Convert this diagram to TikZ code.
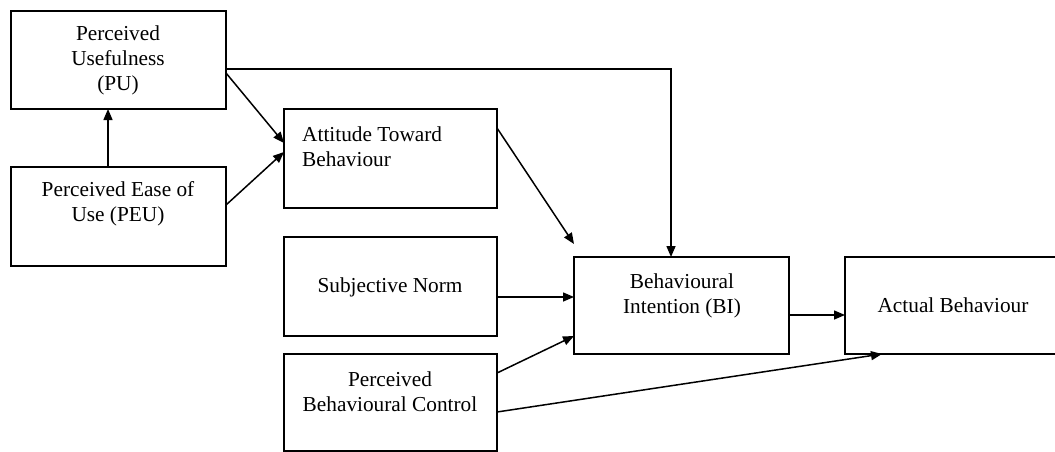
\documentclass[tikz,border=0pt]{standalone}
\usepackage{fontspec}
\setmainfont{Liberation Serif}
\usetikzlibrary{arrows.meta}
\begin{document}
\begin{tikzpicture}[x=1pt,y=-1pt,
  box/.style={draw, line width=1.6pt, rectangle, inner sep=0pt, outer sep=0pt},
  lbl/.style={font=\fontsize{21.3}{25}\selectfont, inner sep=0pt, align=center},
  link/.style={line width=1.5pt, -{Triangle[length=11pt,width=9pt]}}]
\useasboundingbox (0,0) rectangle (1055,452);
% boxes
\node[box, minimum width=215pt, minimum height=98pt] (pu)  at (118.5,60) {};
\node[box, minimum width=215pt, minimum height=99pt] (peu) at (118.5,216.5) {};
\node[box, minimum width=213pt, minimum height=99pt] (atb) at (390.5,158.5) {};
\node[box, minimum width=213pt, minimum height=99pt] (sn)  at (390.5,286.5) {};
\node[box, minimum width=213pt, minimum height=97pt] (pbc) at (390.5,402.5) {};
\node[box, minimum width=215pt, minimum height=97pt] (bi)  at (681.5,305.5) {};
\node[box, minimum width=213pt, minimum height=97pt] (ab)  at (951.5,305.5) {};
% labels
\node[lbl] (pu-t)  at (118,60)  {Perceived\\Usefulness\\(PU)};
\node[lbl] (peu-t) at (118,204) {Perceived Ease of\\Use (PEU)};
\node[lbl, align=left, anchor=west] (atb-t) at (302,146.5) {Attitude Toward\\Behaviour};
\node[lbl] (sn-t)  at (390,287) {Subjective Norm};
\node[lbl] (pbc-t) at (390,391.5) {Perceived\\Behavioural Control};
\node[lbl] (bi-t)  at (682,295.5) {Behavioural\\Intention (BI)};
\node[lbl] (ab-t)  at (953,305) {Actual Behaviour};
% connectors
\draw[link] ([xshift=-10.5pt]peu.north) -- ([xshift=-10.5pt]pu.south);
\draw[link] ([yshift=-13pt]pu.east) -- ([yshift=15.5pt]atb.west);
\draw[link] ([yshift=11.5pt]peu.east) -- ([yshift=6.5pt]atb.west);
\draw[link] ([yshift=-9pt]pu.east) -| ([xshift=-10.5pt]bi.north);
\draw[link] ([yshift=30.5pt]atb.east) -- ([yshift=13pt]bi.north west);
\draw[link] ([yshift=-10.5pt]sn.east) -- ([yshift=8.5pt]bi.west);
\draw[link] ([yshift=29.5pt]pbc.east) -- ([yshift=-30.5pt]bi.west);
\draw[link] ([yshift=-9.5pt]pbc.east) -- ([xshift=-69.5pt]ab.south);
\draw[link] ([yshift=-9.5pt]bi.east) -- ([yshift=-9.5pt]ab.west);
\end{tikzpicture}
\end{document}
